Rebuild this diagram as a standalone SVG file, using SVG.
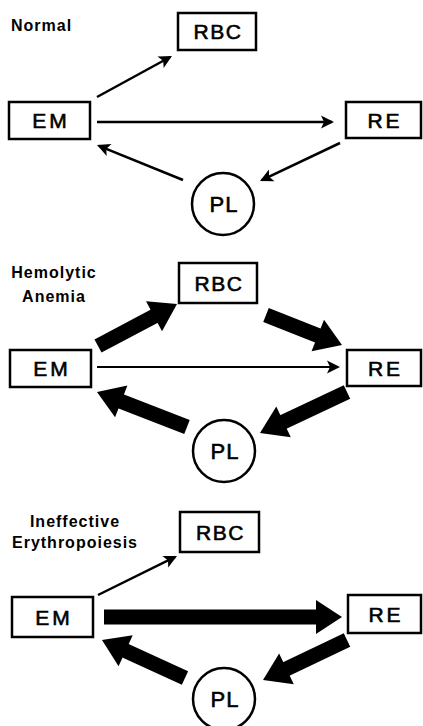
<svg xmlns="http://www.w3.org/2000/svg" width="423" height="726" viewBox="0 0 423 726">
<style>
.box{fill:#fff;stroke:#000;stroke-width:2.5}
.lbl{font-family:"Liberation Sans",Arial,sans-serif;font-size:21px;fill:#000;stroke:#000;stroke-width:0.6;text-anchor:middle}
.sp{letter-spacing:3px}
.hdr{font-family:"Liberation Sans",Arial,sans-serif;font-size:16px;font-weight:bold;fill:#000;letter-spacing:1px}
.thin{stroke:#000;stroke-width:2.5;fill:none;marker-end:url(#ah)}
.shaft{stroke:#000;stroke-width:15;fill:none}
.hd{fill:#000}
</style>
<defs>
<marker id="ah" viewBox="-14 -8 18 16" refX="0" refY="0" markerWidth="18" markerHeight="16" markerUnits="userSpaceOnUse" orient="auto">
<path d="M2,0 L-11,-6.5 L-8,0 L-11,6.5 Z" fill="#000"/>
</marker>
<polygon id="head" points="0,0 -26,-17 -26,17"/>
</defs>

<g id="headers">
<text class="hdr" x="11" y="30.5">Normal</text>
<text class="hdr" x="54" y="277.5" text-anchor="middle">Hemolytic</text>
<text class="hdr" x="54" y="302" text-anchor="middle">Anemia</text>
<text class="hdr" x="75" y="526.5" text-anchor="middle">Ineffective</text>
<text class="hdr" x="75" y="548" text-anchor="middle">Erythropoiesis</text>
</g>

<g id="connectors">
<!-- Normal -->
<line class="thin" x1="97" y1="97" x2="170.2" y2="57"/>
<line class="thin" x1="97" y1="122" x2="332" y2="122"/>
<line class="thin" x1="340" y1="143" x2="261.8" y2="180.1"/>
<line class="thin" x1="183" y1="180" x2="98.9" y2="145.8"/>
<!-- Hemolytic -->
<line class="shaft" x1="98" y1="346" x2="155.8" y2="315.3"/>
<use href="#head" class="hd" transform="translate(177,304) rotate(-28)"/>
<line class="shaft" x1="266" y1="315" x2="319.7" y2="336.2"/>
<use href="#head" class="hd" transform="translate(342,345) rotate(21.5)"/>
<line class="thin" style="stroke-width:2" x1="97" y1="367" x2="338" y2="367"/>
<line class="shaft" x1="347" y1="392" x2="281.7" y2="422.8"/>
<use href="#head" class="hd" transform="translate(260,433) rotate(154.8)"/>
<line class="shaft" x1="187" y1="427" x2="119.4" y2="400.7"/>
<use href="#head" class="hd" transform="translate(97,392) rotate(201.25)"/>
<!-- Ineffective -->
<line class="thin" x1="98" y1="595" x2="175.2" y2="556.9"/>
<line class="shaft" x1="104" y1="617" x2="318" y2="617"/>
<use href="#head" class="hd" transform="translate(342,617)"/>
<line class="shaft" x1="347" y1="640" x2="284.7" y2="669.7"/>
<use href="#head" class="hd" transform="translate(263,680) rotate(154.5)"/>
<line class="shaft" x1="185" y1="678" x2="123.8" y2="650"/>
<use href="#head" class="hd" transform="translate(102,640) rotate(204.6)"/>
</g>

<g id="n-rbc-1"><rect class="box" x="178" y="13" width="78" height="37"/><text class="lbl" x="218" y="39" letter-spacing="1.5">RBC</text></g>
<g id="n-em-1"><rect class="box" x="9" y="102" width="81" height="37"/><text class="lbl sp" x="51" y="128">EM</text></g>
<g id="n-re-1"><rect class="box" x="346" y="102" width="75" height="36"/><text class="lbl sp" x="385" y="127.5">RE</text></g>
<g id="n-pl-1"><circle class="box" cx="223" cy="204" r="31"/><text class="lbl" style="font-size:22px" x="224" y="212" letter-spacing="1">PL</text></g>

<g id="n-rbc-2"><rect class="box" x="179" y="263" width="78" height="40"/><text class="lbl" x="219" y="290.5" letter-spacing="1.5">RBC</text></g>
<g id="n-em-2"><rect class="box" x="10" y="350" width="81" height="37"/><text class="lbl sp" x="52" y="376">EM</text></g>
<g id="n-re-2"><rect class="box" x="347" y="350" width="74" height="36"/><text class="lbl sp" x="385.5" y="375.5">RE</text></g>
<g id="n-pl-2"><circle class="box" cx="224" cy="451" r="31"/><text class="lbl" style="font-size:22px" x="225" y="459" letter-spacing="1">PL</text></g>

<g id="n-rbc-3"><rect class="box" x="180" y="512" width="79" height="40"/><text class="lbl" x="220.5" y="539.5" letter-spacing="1.5">RBC</text></g>
<g id="n-em-3"><rect class="box" x="12" y="597" width="81" height="40"/><text class="lbl sp" x="54" y="624.5">EM</text></g>
<g id="n-re-3"><rect class="box" x="348" y="595" width="73" height="38"/><text class="lbl sp" x="386" y="621.5">RE</text></g>
<g id="n-pl-3"><circle class="box" cx="224" cy="699" r="31"/><text class="lbl" style="font-size:22px" x="225" y="707" letter-spacing="1">PL</text></g>
</svg>
